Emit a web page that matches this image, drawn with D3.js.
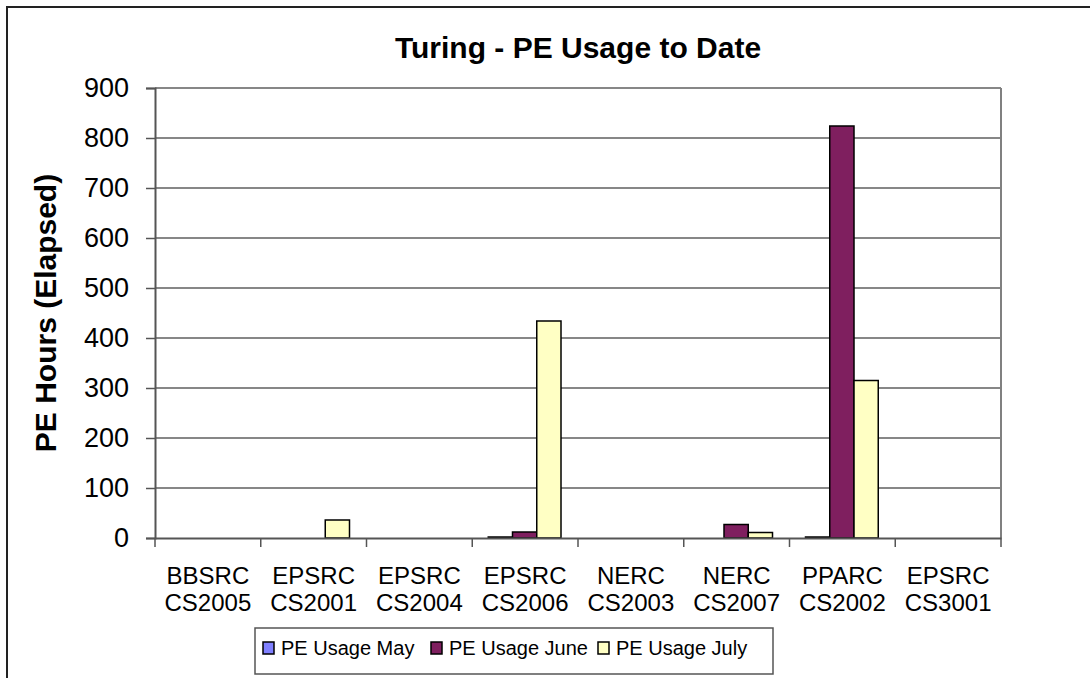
<!DOCTYPE html>
<html>
<head>
<meta charset="utf-8">
<script src="https://cdn.jsdelivr.net/npm/d3@7"></script>
<style>
  body { margin: 0; background: #fff; }
  text { font-family: "Liberation Sans", Arial, sans-serif; fill: #000; }
</style>
</head>
<body>
<script>
// Data
const categories = ["BBSRC CS2005", "EPSRC CS2001", "EPSRC CS2004", "EPSRC CS2006",
                    "NERC CS2003", "NERC CS2007", "PPARC CS2002", "EPSRC CS3001"];
const seriesNames = ["PE Usage May", "PE Usage June", "PE Usage July"];
const usageMay  = [0, 0, 0, 2, 0, 0, 2, 0];
const usageJune = [0, 0, 0, 12, 0, 27, 824, 0];
const usageJuly = [0, 36, 0, 434, 0, 11, 315, 0];
const yTicks = [0, 100, 200, 300, 400, 500, 600, 700, 800, 900];
const colors = ["#8080ff", "#7f1f5f", "#ffffc4"];

const svgWidth = 1090, svgHeight = 678;
const margin = {top: 88, right: 89, bottom: 140, left: 155};
const width = svgWidth - margin.left - margin.right;
const height = svgHeight - margin.top - margin.bottom;

const svg = d3.select("body").append("svg")
    .attr("width", svgWidth)
    .attr("height", svgHeight);

// outer chart border (only top and left visible in the crop)
svg.append("path")
    .attr("d", "M7,678 L7,7 L1090,7")
    .attr("fill", "none")
    .attr("stroke", "#222")
    .attr("stroke-width", 2);

const g = svg.append("g")
    .attr("transform", `translate(${margin.left},${margin.top})`);

// scales
const x0 = d3.scaleBand().domain(categories).range([0, width]).paddingInner(0).paddingOuter(0);
const x1 = d3.scaleBand().domain(seriesNames).range([16, x0.bandwidth() - 17]).padding(0);
const y = d3.scaleLinear().domain([0, 900]).range([height, 0]);

// gridlines
g.selectAll(".grid")
    .data(yTicks.filter(d => d > 0))
    .enter().append("line")
    .attr("class", "grid")
    .attr("x1", 0).attr("x2", width)
    .attr("y1", d => y(d)).attr("y2", d => y(d))
    .attr("stroke", "#111")
    .attr("stroke-width", 1.2);

// plot area right border
g.append("line")
    .attr("x1", width).attr("x2", width)
    .attr("y1", 0).attr("y2", height)
    .attr("stroke", "#808080")
    .attr("stroke-width", 2);

// bars
const table = categories.map((c, i) => ({cat: c, values: [usageMay[i], usageJune[i], usageJuly[i]]}));
const groups = g.selectAll(".cat")
    .data(table)
    .enter().append("g")
    .attr("class", "cat")
    .attr("transform", d => `translate(${x0(d.cat)},0)`);

groups.selectAll("rect")
    .data(d => d.values.map((v, j) => ({key: seriesNames[j], value: v, j: j})).filter(e => e.value > 0))
    .enter().append("rect")
    .attr("x", d => x1(d.key))
    .attr("width", x1.bandwidth())
    .attr("y", d => y(d.value))
    .attr("height", d => y(0) - y(d.value))
    .attr("fill", d => colors[d.j])
    .attr("stroke", "#000")
    .attr("stroke-width", 1.5);

// y axis
const yAxis = g.append("g")
    .call(d3.axisLeft(y).tickValues(yTicks).tickSize(9).tickPadding(17));
yAxis.select(".domain").attr("stroke", "#555").attr("stroke-width", 2);
yAxis.selectAll(".tick line").attr("stroke", "#555").attr("stroke-width", 1.5);
yAxis.selectAll("text")
    .style("font-family", "Liberation Sans, Arial, sans-serif")
    .style("font-size", "27px");

// x axis
const xAxis = g.append("g")
    .attr("transform", `translate(0,${height})`)
    .call(d3.axisBottom(x0).tickSize(0).tickFormat(""));
xAxis.select(".domain").attr("stroke", "#555").attr("stroke-width", 2);

g.selectAll(".xtick")
    .data(d3.range(categories.length + 1))
    .enter().append("line")
    .attr("class", "xtick")
    .attr("x1", i => i * x0.step()).attr("x2", i => i * x0.step())
    .attr("y1", height).attr("y2", height + 9)
    .attr("stroke", "#555")
    .attr("stroke-width", 1.5);

const xLabels = g.selectAll(".xlabel")
    .data(categories)
    .enter().append("text")
    .attr("class", "xlabel")
    .attr("text-anchor", "middle")
    .attr("transform", d => `translate(${x0(d) + x0.bandwidth() / 2},${height + 46})`)
    .style("font-size", "24px");
xLabels.append("tspan").attr("x", 0).attr("y", 0).text(d => d.split(" ")[0]);
xLabels.append("tspan").attr("x", 0).attr("y", 27).text(d => d.split(" ")[1]);

// title
svg.append("text")
    .attr("x", margin.left + width / 2)
    .attr("y", 58)
    .attr("text-anchor", "middle")
    .style("font-size", "30px")
    .style("font-weight", "bold")
    .text("Turing - PE Usage to Date");

// y axis title
svg.append("text")
    .attr("transform", `translate(56,${margin.top + height / 2}) rotate(-90)`)
    .attr("text-anchor", "middle")
    .style("font-size", "30px")
    .style("font-weight", "bold")
    .text("PE Hours (Elapsed)");

// legend
const legend = svg.append("g").attr("transform", "translate(255,628)");
legend.append("rect")
    .attr("width", 518).attr("height", 46)
    .attr("fill", "#fff")
    .attr("stroke", "#555")
    .attr("stroke-width", 1.5);
const legendX = [8, 176, 343];
const item = legend.selectAll(".legend")
    .data(seriesNames)
    .enter().append("g")
    .attr("class", "legend")
    .attr("transform", (d, i) => `translate(${legendX[i]},14)`);
item.append("rect")
    .attr("width", 11).attr("height", 12)
    .attr("fill", (d, i) => colors[i])
    .attr("stroke", "#000")
    .attr("stroke-width", 1.5);
item.append("text")
    .attr("x", 18)
    .attr("y", 13)
    .style("font-size", "20px")
    .text(d => d);
</script>
</body>
</html>
